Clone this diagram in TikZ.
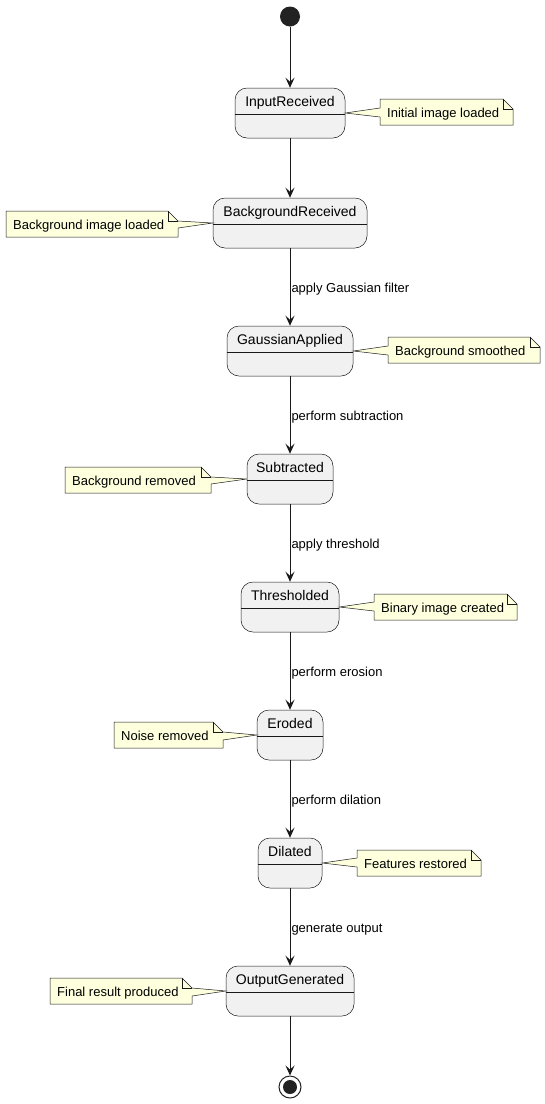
\documentclass[tikz,border=0pt]{standalone}
\usepackage{fontspec}
\setmainfont{Liberation Sans}
\usetikzlibrary{arrows.meta,calc}
\definecolor{ink}{HTML}{181818}
\definecolor{stfill}{HTML}{F1F1F1}
\definecolor{notefill}{HTML}{FEFFDD}
\definecolor{dotc}{HTML}{222222}
\tikzset{
  stbox/.style={draw=ink, line width=0.5pt, fill=stfill, rounded corners=12pt,
    minimum height=50pt, inner sep=0pt},
  sepline/.style={draw=ink, line width=0.5pt},
  stname/.style={anchor=base, inner sep=0pt, font=\fontsize{14pt}{16pt}\selectfont},
  notebox/.style={draw=ink, line width=0.5pt, fill=notefill, line join=miter},
  notefold/.style={draw=ink, line width=0.5pt},
  notetext/.style={anchor=base west, inner sep=0pt, font=\fontsize{13pt}{15pt}\selectfont},
  edge/.style={draw=ink, line width=1pt, -{Stealth[length=10pt,width=9pt,inset=4pt]}},
  elabel/.style={right, inner sep=1pt, yshift=-2pt, text height=9.5pt, text depth=2.7pt,
    font=\fontsize{13pt}{15pt}\selectfont},
  initst/.style={circle, fill=dotc, minimum size=20pt, inner sep=0pt},
  finalst/.style={circle, draw=dotc, line width=1pt, fill=white, minimum size=22pt, inner sep=0pt,
    path picture={\fill[dotc] (path picture bounding box.center) circle (7pt);}}
}
% state: name, top y, width, text
\newcommand{\mystate}[4]{%
  \node[stbox, minimum width=#3pt] (#1) at (290,#2+25) {};
  \draw[sepline] ($(#1.north west)+(0,26)$) -- ($(#1.north east)+(0,26)$);
  \node[stname] (#1t) at (290,#2+18) {#4};
}
% note to the right of a state: name, state, x1, y1, x2, y2, apex y, text
\newcommand{\noteR}[8]{%
  \filldraw[notebox] (#3,#4) -- (#5-10,#4) -- (#5,#4+10) -- (#5,#6) -- (#3,#6) -- (#3,#7+4) -- (#2.east) -- (#3,#7-5) -- cycle;
  \draw[notefold] (#5-10,#4) -- (#5-10,#4+10) -- (#5,#4+10);
  \node[notetext] (#1) at (#3+7,#4+18) {#8};
}
% note to the left of a state
\newcommand{\noteL}[8]{%
  \filldraw[notebox] (#3,#4) -- (#5-10,#4) -- (#5,#4+10) -- (#2.west) -- (#5,#7+5) -- (#5,#6) -- (#3,#6) -- cycle;
  \draw[notefold] (#5-10,#4) -- (#5-10,#4+10) -- (#5,#4+10);
  \node[notetext] (#1) at (#3+7,#4+18) {#8};
}
\begin{document}
\begin{tikzpicture}[x=1pt,y=-1pt]
\useasboundingbox (0,0) rectangle (545,1104);

\node[initst] (start) at (290,16.5) {};
\mystate{s1}{88}{110}{InputReceived}
\mystate{s2}{198}{154}{BackgroundReceived}
\mystate{s3}{326}{126}{GaussianApplied}
\mystate{s4}{454}{86}{Subtracted}
\mystate{s5}{582}{98}{Thresholded}
\mystate{s6}{710}{66}{Eroded}
\mystate{s7}{838}{64}{Dilated}
\mystate{s8}{966}{128}{OutputGenerated}
\node[finalst] (end) at (290,1087) {};

\noteR{n1}{s1}{380}{99}{513}{125}{113}{Initial image loaded}
\noteL{n2}{s2}{6}{211}{178}{237}{223}{Background image loaded}
\noteR{n3}{s3}{388}{337}{540}{363}{351}{Background smoothed}
\noteL{n4}{s4}{65}{467}{211}{493}{479}{Background removed}
\noteR{n5}{s5}{374}{594}{517}{620}{607}{Binary image created}
\noteL{n6}{s6}{114}{722}{223}{748}{735}{Noise removed}
\noteR{n7}{s7}{357}{850}{481}{876}{863}{Features restored}
\noteL{n8}{s8}{50}{978}{192}{1004}{991}{Final result produced}

\draw[edge] (start) -- (s1);
\draw[edge] (s1) -- (s2);
\draw[edge] (s2) -- node[elabel] {apply Gaussian filter} (s3);
\draw[edge] (s3) -- node[elabel] {perform subtraction} (s4);
\draw[edge] (s4) -- node[elabel] {apply threshold} (s5);
\draw[edge] (s5) -- node[elabel] {perform erosion} (s6);
\draw[edge] (s6) -- node[elabel] {perform dilation} (s7);
\draw[edge] (s7) -- node[elabel] {generate output} (s8);
\draw[edge] (s8) -- (end);
\end{tikzpicture}
\end{document}
